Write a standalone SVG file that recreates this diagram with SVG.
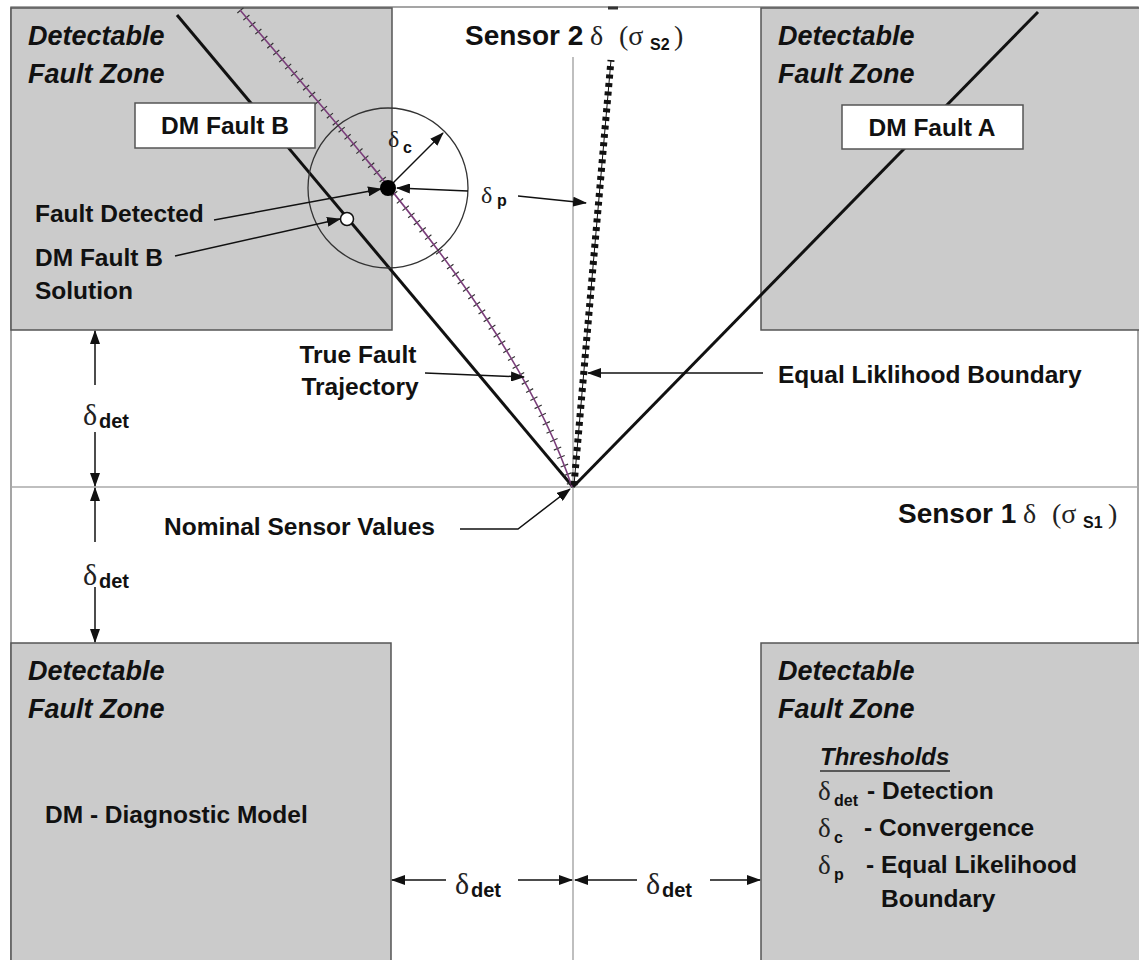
<svg xmlns="http://www.w3.org/2000/svg" width="1139" height="960" viewBox="0 0 1139 960">
<style>
.zone{fill:#cbcbcb;stroke:#555;stroke-width:1.5}
.lbl{fill:#fff;stroke:#555;stroke-width:1.5}
.t{font-family:"Liberation Sans",Arial,sans-serif;font-weight:bold;font-size:24.5px;fill:#111}
.ti{font-family:"Liberation Sans",Arial,sans-serif;font-weight:bold;font-style:italic;font-size:27px;fill:#111}
.big{font-family:"Liberation Sans",Arial,sans-serif;font-weight:bold;font-size:28px;fill:#111}
.sym{font-family:"Liberation Serif","Times New Roman",serif;font-weight:normal;fill:#222}
.sub{font-family:"Liberation Sans",Arial,sans-serif;font-weight:bold;fill:#111}
.ax{stroke:#aaa;stroke-width:1.5;fill:none}
.arr{stroke:#111;stroke-width:1.5;fill:none;marker-end:url(#ah)}
</style>
<defs>
<marker id="ah" viewBox="0 0 14 10" refX="13" refY="5" markerWidth="14" markerHeight="10" markerUnits="userSpaceOnUse" orient="auto">
<path d="M0,0 L14,5 L0,10 z" fill="#111"/>
</marker>
</defs>
<rect width="1139" height="960" fill="#fff"/>
<g id="frame">
<rect x="11" y="7" width="1127" height="960" fill="none" stroke="#888" stroke-width="1.5"/>
</g>
<g id="zone-tl"><rect class="zone" x="11" y="8" width="381" height="322"/>
<text class="ti" x="28" y="45">Detectable</text><text class="ti" x="28" y="83">Fault Zone</text></g>
<g id="zone-tr"><rect class="zone" x="761" y="8" width="380" height="322"/>
<text class="ti" x="778" y="45">Detectable</text><text class="ti" x="778" y="83">Fault Zone</text></g>
<g id="zone-bl"><rect class="zone" x="11" y="643" width="380" height="320"/>
<text class="ti" x="28" y="680">Detectable</text><text class="ti" x="28" y="718">Fault Zone</text>
<text class="t" x="45" y="823">DM - Diagnostic Model</text></g>
<g id="zone-br"><rect class="zone" x="761" y="643" width="380" height="320"/>
<text class="ti" x="778" y="680">Detectable</text><text class="ti" x="778" y="718">Fault Zone</text>
<text class="ti" x="820" y="765" style="font-size:24px">Thresholds</text>
<line x1="820" y1="771" x2="950" y2="771" stroke="#333" stroke-width="1.5"/>
<text class="sym" x="818" y="800" font-size="27">δ</text><text class="sub" x="834" y="806" font-size="16">det</text><text class="t" x="867" y="799">- Detection</text>
<text class="sym" x="818" y="837" font-size="27">δ</text><text class="sub" x="834" y="843" font-size="16">c</text><text class="t" x="864" y="836">- Convergence</text>
<text class="sym" x="818" y="874" font-size="27">δ</text><text class="sub" x="834" y="880" font-size="16">p</text><text class="t" x="866" y="873">- Equal Likelihood</text>
<text class="t" x="881" y="907">Boundary</text></g>
<g id="axes">
<line class="ax" x1="573" y1="57" x2="573" y2="960"/>
<line class="ax" x1="11" y1="487" x2="1139" y2="487"/>
<line x1="608" y1="8" x2="618" y2="8" stroke="#333" stroke-width="3"/>
</g>
<g id="curves">
<line x1="177" y1="15" x2="573" y2="487" stroke="#111" stroke-width="3"/>
<line x1="573" y1="487" x2="1038" y2="12" stroke="#111" stroke-width="3"/>
<path d="M240,10 C380,175 520,330 572,487" fill="none" stroke="#333" stroke-width="8" stroke-dasharray="1.2 8"/>
<path d="M240,10 C380,175 520,330 572,487" fill="none" stroke="#7b3f7b" stroke-width="1.6"/>
<line x1="574" y1="485" x2="611" y2="60" stroke="#111" stroke-width="1"/>
<line x1="574" y1="485" x2="611" y2="60" stroke="#111" stroke-width="7" stroke-dasharray="4 4.5"/>
<circle cx="388" cy="188" r="80" fill="none" stroke="#333" stroke-width="1.3"/>
</g>
<g id="dm-fault-b"><rect class="lbl" x="135" y="103" width="180" height="45"/><text class="t" x="225" y="134" text-anchor="middle">DM Fault B</text></g>
<g id="dm-fault-a"><rect class="lbl" x="842" y="105" width="181" height="44"/><text class="t" x="932" y="136" text-anchor="middle">DM Fault A</text></g>
<g id="connectors">
<line class="arr" x1="388" y1="188" x2="443" y2="133"/>
<line class="arr" x1="468" y1="191" x2="397" y2="188"/>
<line class="arr" x1="518" y1="196" x2="586" y2="203"/>
<line class="arr" x1="214" y1="220" x2="381" y2="189"/>
<line class="arr" x1="175" y1="256" x2="340" y2="219"/>
<line class="arr" x1="425" y1="373" x2="524" y2="377"/>
<line class="arr" x1="763" y1="373" x2="588" y2="373"/>
<polyline class="arr" points="460,529 518,529 570,489"/>
<line class="arr" x1="95" y1="385" x2="95" y2="331"/>
<line class="arr" x1="95" y1="432" x2="95" y2="486"/>
<line class="arr" x1="95" y1="542" x2="95" y2="488"/>
<line class="arr" x1="95" y1="587" x2="95" y2="642"/>
<line class="arr" x1="446" y1="880" x2="392" y2="880"/>
<line class="arr" x1="518" y1="880" x2="572" y2="880"/>
<line class="arr" x1="637" y1="880" x2="575" y2="880"/>
<line class="arr" x1="710" y1="880" x2="760" y2="880"/>
</g>
<g id="points">
<circle cx="388" cy="188" r="8" fill="#000"/>
<circle cx="347" cy="219" r="6.5" fill="#fff" stroke="#111" stroke-width="1.5"/>
</g>
<g id="labels">
<text class="big" x="465" y="45">Sensor 2</text><text class="sym" x="590" y="45" font-size="28">δ</text><text class="sym" x="619" y="45" font-size="28">(σ</text><text class="sub" x="650" y="50" font-size="16">S2</text><text class="sym" x="674" y="45" font-size="28">)</text>
<text class="big" x="898" y="523">Sensor 1</text><text class="sym" x="1023" y="523" font-size="28">δ</text><text class="sym" x="1052" y="523" font-size="28">(σ</text><text class="sub" x="1083" y="528" font-size="16">S1</text><text class="sym" x="1108" y="523" font-size="28">)</text>
<text class="sym" x="388" y="147" font-size="24">δ</text><text class="sub" x="403" y="153" font-size="16">c</text>
<text class="sym" x="481" y="203" font-size="24">δ</text><text class="sub" x="497" y="206" font-size="16">p</text>
<text class="t" x="35" y="222">Fault Detected</text>
<text class="t" x="35" y="266">DM Fault B</text><text class="t" x="35" y="299">Solution</text>
<text class="t" x="358" y="363" text-anchor="middle">True Fault</text><text class="t" x="360" y="395" text-anchor="middle">Trajectory</text>
<text class="t" x="778" y="383">Equal Liklihood Boundary</text>
<text class="t" x="164" y="535">Nominal Sensor Values</text>
<text class="sym" x="83" y="425" font-size="30">δ</text><text class="sub" x="99" y="428" font-size="20">det</text>
<text class="sym" x="83" y="585" font-size="30">δ</text><text class="sub" x="99" y="588" font-size="20">det</text>
<text class="sym" x="455" y="894" font-size="30">δ</text><text class="sub" x="471" y="897" font-size="20">det</text>
<text class="sym" x="646" y="894" font-size="30">δ</text><text class="sub" x="662" y="897" font-size="20">det</text>
</g>
</svg>
